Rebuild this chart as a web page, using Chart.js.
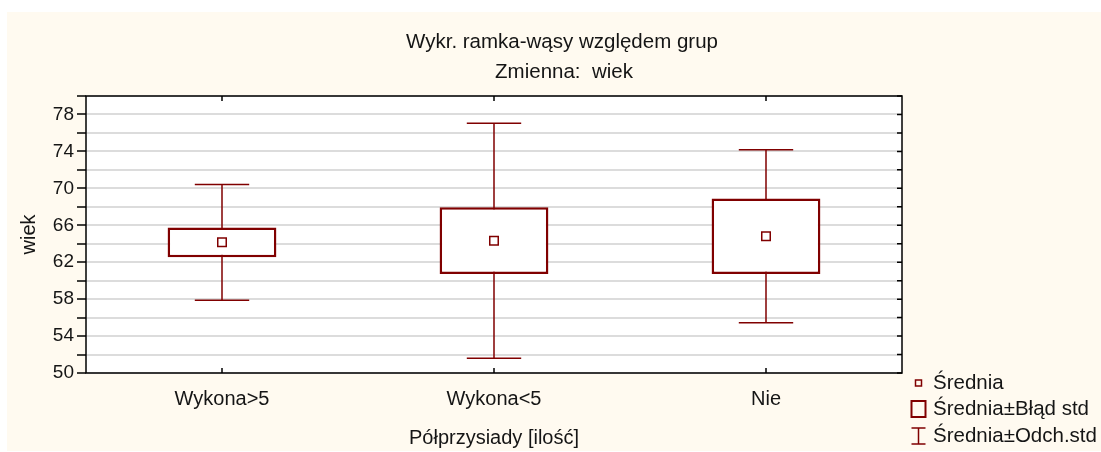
<!DOCTYPE html>
<html>
<head>
<meta charset="utf-8">
<title>Wykr. ramka-wąsy względem grup</title>
<script src="https://cdn.jsdelivr.net/npm/chart.js@4.4.1/dist/chart.umd.min.js"></script>
<style>
  html, body { margin: 0; padding: 0; background: #fff; }
  canvas { display: block; }
</style>
</head>
<body>
<canvas id="boxChart" width="1101" height="452"></canvas>
<script>
// Group statistics for "wiek"
const groups = ['Wykona>5', 'Wykona<5', 'Nie'];
const means = [64.15, 64.33, 64.81];
const stdErrors = [1.61, 3.61, 4.09];
const stdDevs = [6.26, 12.72, 9.36];
const titleLines = ['Wykr. ramka-wąsy względem grup', 'Zmienna:  wiek'];
const legendLabels = ['Średnia', 'Średnia±Błąd std', 'Średnia±Odch.std'];

const FONT = '"Liberation Sans", Arial, sans-serif';
const DARK_RED = '#800000';
const TEXT = '#151515';

// Panel background + white plot area
const background = {
    id: 'background',
    beforeDraw(chart) {
        const {ctx, chartArea: a} = chart;
        ctx.save();
        ctx.fillStyle = '#ffffff';
        ctx.fillRect(0, 0, chart.width, chart.height);
        ctx.fillStyle = '#fffaf0';
        ctx.fillRect(7, 12, chart.width - 7, chart.height - 13);
        ctx.fillStyle = '#ffffff';
        ctx.fillRect(a.left, a.top, a.right - a.left, a.bottom - a.top);
        ctx.restore();
    }
};

// Mean ± std dev whiskers, drawn behind the boxes
const whiskers = {
    id: 'whiskers',
    beforeDatasetsDraw(chart) {
        const {ctx, scales: {x, y}} = chart;
        const boxes = chart.getDatasetMeta(0).data;
        ctx.save();
        ctx.strokeStyle = DARK_RED;
        ctx.lineWidth = 1.5;
        means.forEach((m, i) => {
            const px = x.getPixelForValue(i);
            const top = y.getPixelForValue(m + stdDevs[i]);
            const bottom = y.getPixelForValue(m - stdDevs[i]);
            const half = boxes[i].width / 4;
            ctx.beginPath();
            ctx.moveTo(px, top);
            ctx.lineTo(px, bottom);
            ctx.moveTo(px - half, top);
            ctx.lineTo(px + half, top);
            ctx.moveTo(px - half, bottom);
            ctx.lineTo(px + half, bottom);
            ctx.stroke();
        });
        ctx.restore();
    }
};

// Title, plot frame with inner tick marks, legend on the right
const frameAndLegend = {
    id: 'frameAndLegend',
    afterDraw(chart) {
        const {ctx, chartArea: a, scales: {x, y}} = chart;
        ctx.save();

        ctx.fillStyle = TEXT;
        ctx.font = '20.5px ' + FONT;
        ctx.textAlign = 'center';
        ctx.textBaseline = 'middle';
        ctx.fillText(titleLines[0], 562, 42);
        ctx.fillText(titleLines[1], 564, 72);

        ctx.strokeStyle = '#000';
        ctx.lineWidth = 1.5;
        ctx.strokeRect(a.left, a.top, a.right - a.left, a.bottom - a.top);

        ctx.beginPath();
        y.ticks.forEach(t => {
            const py = y.getPixelForValue(t.value);
            ctx.moveTo(a.right - 5, py);
            ctx.lineTo(a.right, py);
        });
        groups.forEach((g, i) => {
            const px = x.getPixelForValue(i);
            ctx.moveTo(px, a.top);
            ctx.lineTo(px, a.top + 5);
            ctx.moveTo(px, a.bottom);
            ctx.lineTo(px, a.bottom - 5);
        });
        ctx.stroke();

        // legend
        const iconX = 918.5;
        const rows = [383, 409, 436];
        ctx.strokeStyle = DARK_RED;

        ctx.lineWidth = 1.5;
        ctx.strokeRect(iconX - 3, rows[0] - 3, 6, 6);

        ctx.lineWidth = 2;
        ctx.strokeRect(iconX - 7, rows[1] - 8, 14, 16);

        ctx.lineWidth = 1.5;
        ctx.beginPath();
        ctx.moveTo(iconX - 7, rows[2] - 8);
        ctx.lineTo(iconX + 7, rows[2] - 8);
        ctx.moveTo(iconX, rows[2] - 8);
        ctx.lineTo(iconX, rows[2] + 8);
        ctx.moveTo(iconX - 7, rows[2] + 8);
        ctx.lineTo(iconX + 7, rows[2] + 8);
        ctx.stroke();

        ctx.fillStyle = TEXT;
        ctx.font = '20.5px ' + FONT;
        ctx.textAlign = 'left';
        legendLabels.forEach((txt, i) => ctx.fillText(txt, 933, rows[i]));
        ctx.restore();
    }
};

const ctx = document.getElementById('boxChart').getContext('2d');
new Chart(ctx, {
    type: 'bar',
    data: {
        labels: groups,
        datasets: [{
            label: legendLabels[1],
            data: means.map((m, i) => [m - stdErrors[i], m + stdErrors[i]]),
            backgroundColor: '#ffffff',
            borderColor: DARK_RED,
            borderWidth: 2.5,
            borderSkipped: false,
            barPercentage: 0.4,
            categoryPercentage: 1,
            order: 1
        }, {
            type: 'line',
            label: legendLabels[0],
            data: means,
            showLine: false,
            pointStyle: 'rect',
            pointRadius: 6,
            borderWidth: 1.5,
            borderColor: DARK_RED,
            backgroundColor: '#ffffff',
            order: 0
        }]
    },
    options: {
        responsive: false,
        animation: false,
        layout: {
            padding: {left: 0, right: 199, top: 96, bottom: 0}
        },
        plugins: {
            legend: {display: false},
            tooltip: {enabled: false}
        },
        scales: {
            x: {
                offset: true,
                grid: {display: false, drawTicks: false},
                border: {display: false},
                ticks: {
                    color: TEXT,
                    font: {family: FONT, size: 20},
                    padding: 14
                },
                title: {
                    display: true,
                    text: 'Półprzysiady [ilość]',
                    color: TEXT,
                    font: {family: FONT, size: 20},
                    padding: {top: 0, bottom: 2}
                },
                afterFit(scale) {
                    scale.height = 79;
                }
            },
            y: {
                min: 50,
                max: 80,
                border: {display: false},
                grid: {
                    color: '#dcdcdc',
                    lineWidth: 2,
                    tickColor: '#000',
                    tickWidth: 1.5,
                    tickLength: 9
                },
                ticks: {
                    stepSize: 2,
                    autoSkip: false,
                    color: TEXT,
                    font: {family: FONT, size: 19},
                    padding: 3,
                    callback: (v) => ((v - 50) % 4 === 0 ? v : '')
                },
                title: {
                    display: true,
                    text: 'wiek',
                    color: TEXT,
                    font: {family: FONT, size: 20},
                    padding: {top: 17, bottom: 0}
                },
                afterFit(scale) {
                    scale.width = 86;
                }
            }
        }
    },
    plugins: [background, whiskers, frameAndLegend]
});
</script>
</body>
</html>
